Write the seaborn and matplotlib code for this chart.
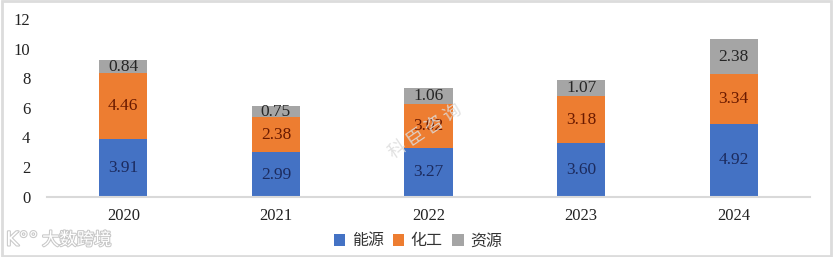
import matplotlib
matplotlib.use("Agg")
import matplotlib.pyplot as plt
import matplotlib.patheffects as pe
from matplotlib.patches import Patch, Rectangle
import seaborn as sns
import numpy as np

years = ["2020", "2021", "2022", "2023", "2024"]
energy = [3.91, 2.99, 3.27, 3.60, 4.92]
chemical = [4.46, 2.38, 3.02, 3.18, 3.34]
resources = [0.84, 0.75, 1.06, 1.07, 2.38]
series_names = ["能源", "化工", "资源"]
y_ticks = [0, 2, 4, 6, 8, 10, 12]

colors = ["#4472C4", "#ED7D31", "#A5A5A5"]
label_colors = ["#1c2b5e", "#6a1a00", "#262626"]

sns.set_theme(style="white")
plt.rcParams['font.family'] = ['Liberation Serif', 'Noto Sans CJK SC', 'DejaVu Sans']

fig = plt.figure(figsize=(8.33, 2.57), dpi=100)
ax = fig.add_axes([47/833, 60.3/257, (810-47)/833, (196.7-19)/257])

bottoms = np.zeros(len(years))
series = [energy, chemical, resources]
for i, vals in enumerate(series):
    sns.barplot(x=years, y=vals, bottom=bottoms, color=colors[i], width=0.315,
                ax=ax, saturation=1, linewidth=0)
    cont = ax.containers[-1]
    ax.bar_label(cont, labels=[f"{v:.2f}" for v in vals], label_type="center",
                 color=label_colors[i], fontsize=12.5, family=['Liberation Serif'])
    bottoms = bottoms + np.array(vals)

ax.set_ylim(0, 12)
ax.set_xlim(-0.5, 4.5)
ax.set_yticks(y_ticks)
ax.set_yticklabels([str(t) for t in y_ticks])
for s in ["top", "right", "left"]:
    ax.spines[s].set_visible(False)
ax.spines["bottom"].set_color("#d9d9d9")
ax.spines["bottom"].set_linewidth(1.5)
ax.tick_params(axis="y", length=0, pad=12, labelsize=12, labelcolor="#222222")
ax.tick_params(axis="x", length=0, pad=8, labelsize=12, labelcolor="#222222")
ax.grid(False)
ax.set_xlabel("")
ax.set_ylabel("")

handles = [Patch(facecolor=c, edgecolor="none") for c in colors]
fig.legend(handles, series_names, loc="center", bbox_to_anchor=(418/833, 1 - 241/257),
           ncol=3, frameon=False, prop={'family': ['Noto Sans CJK SC'], 'size': 11.5},
           handlelength=0.7, handleheight=0.7, handletextpad=0.4, columnspacing=0.6,
           labelcolor="#333333")

# watermarks
fig.text(425/833, 1 - 132/257, "科 臣 咨 询", rotation=34, ha="center", va="center",
         fontsize=13, color="#dcdcdc", family=['Noto Sans CJK SC'], alpha=0.85)
fig.text(6/833, 1 - 240/257, "K°°", ha="left", va="center", fontsize=14,
         color="white", family=['DejaVu Sans'],
         path_effects=[pe.withStroke(linewidth=1.5, foreground="#c8c8c8")])
fig.text(42/833, 1 - 240/257, "大数跨境", ha="left", va="center", fontsize=12.5,
         color="white", family=['Noto Sans CJK SC'],
         path_effects=[pe.withStroke(linewidth=1.5, foreground="#c8c8c8")])

fig.patches.append(Rectangle((0.002, 0.004), 0.996, 0.992, transform=fig.transFigure,
                             fill=False, edgecolor="#dcdcdc", linewidth=2))

fig.savefig("out.png", dpi=100)
